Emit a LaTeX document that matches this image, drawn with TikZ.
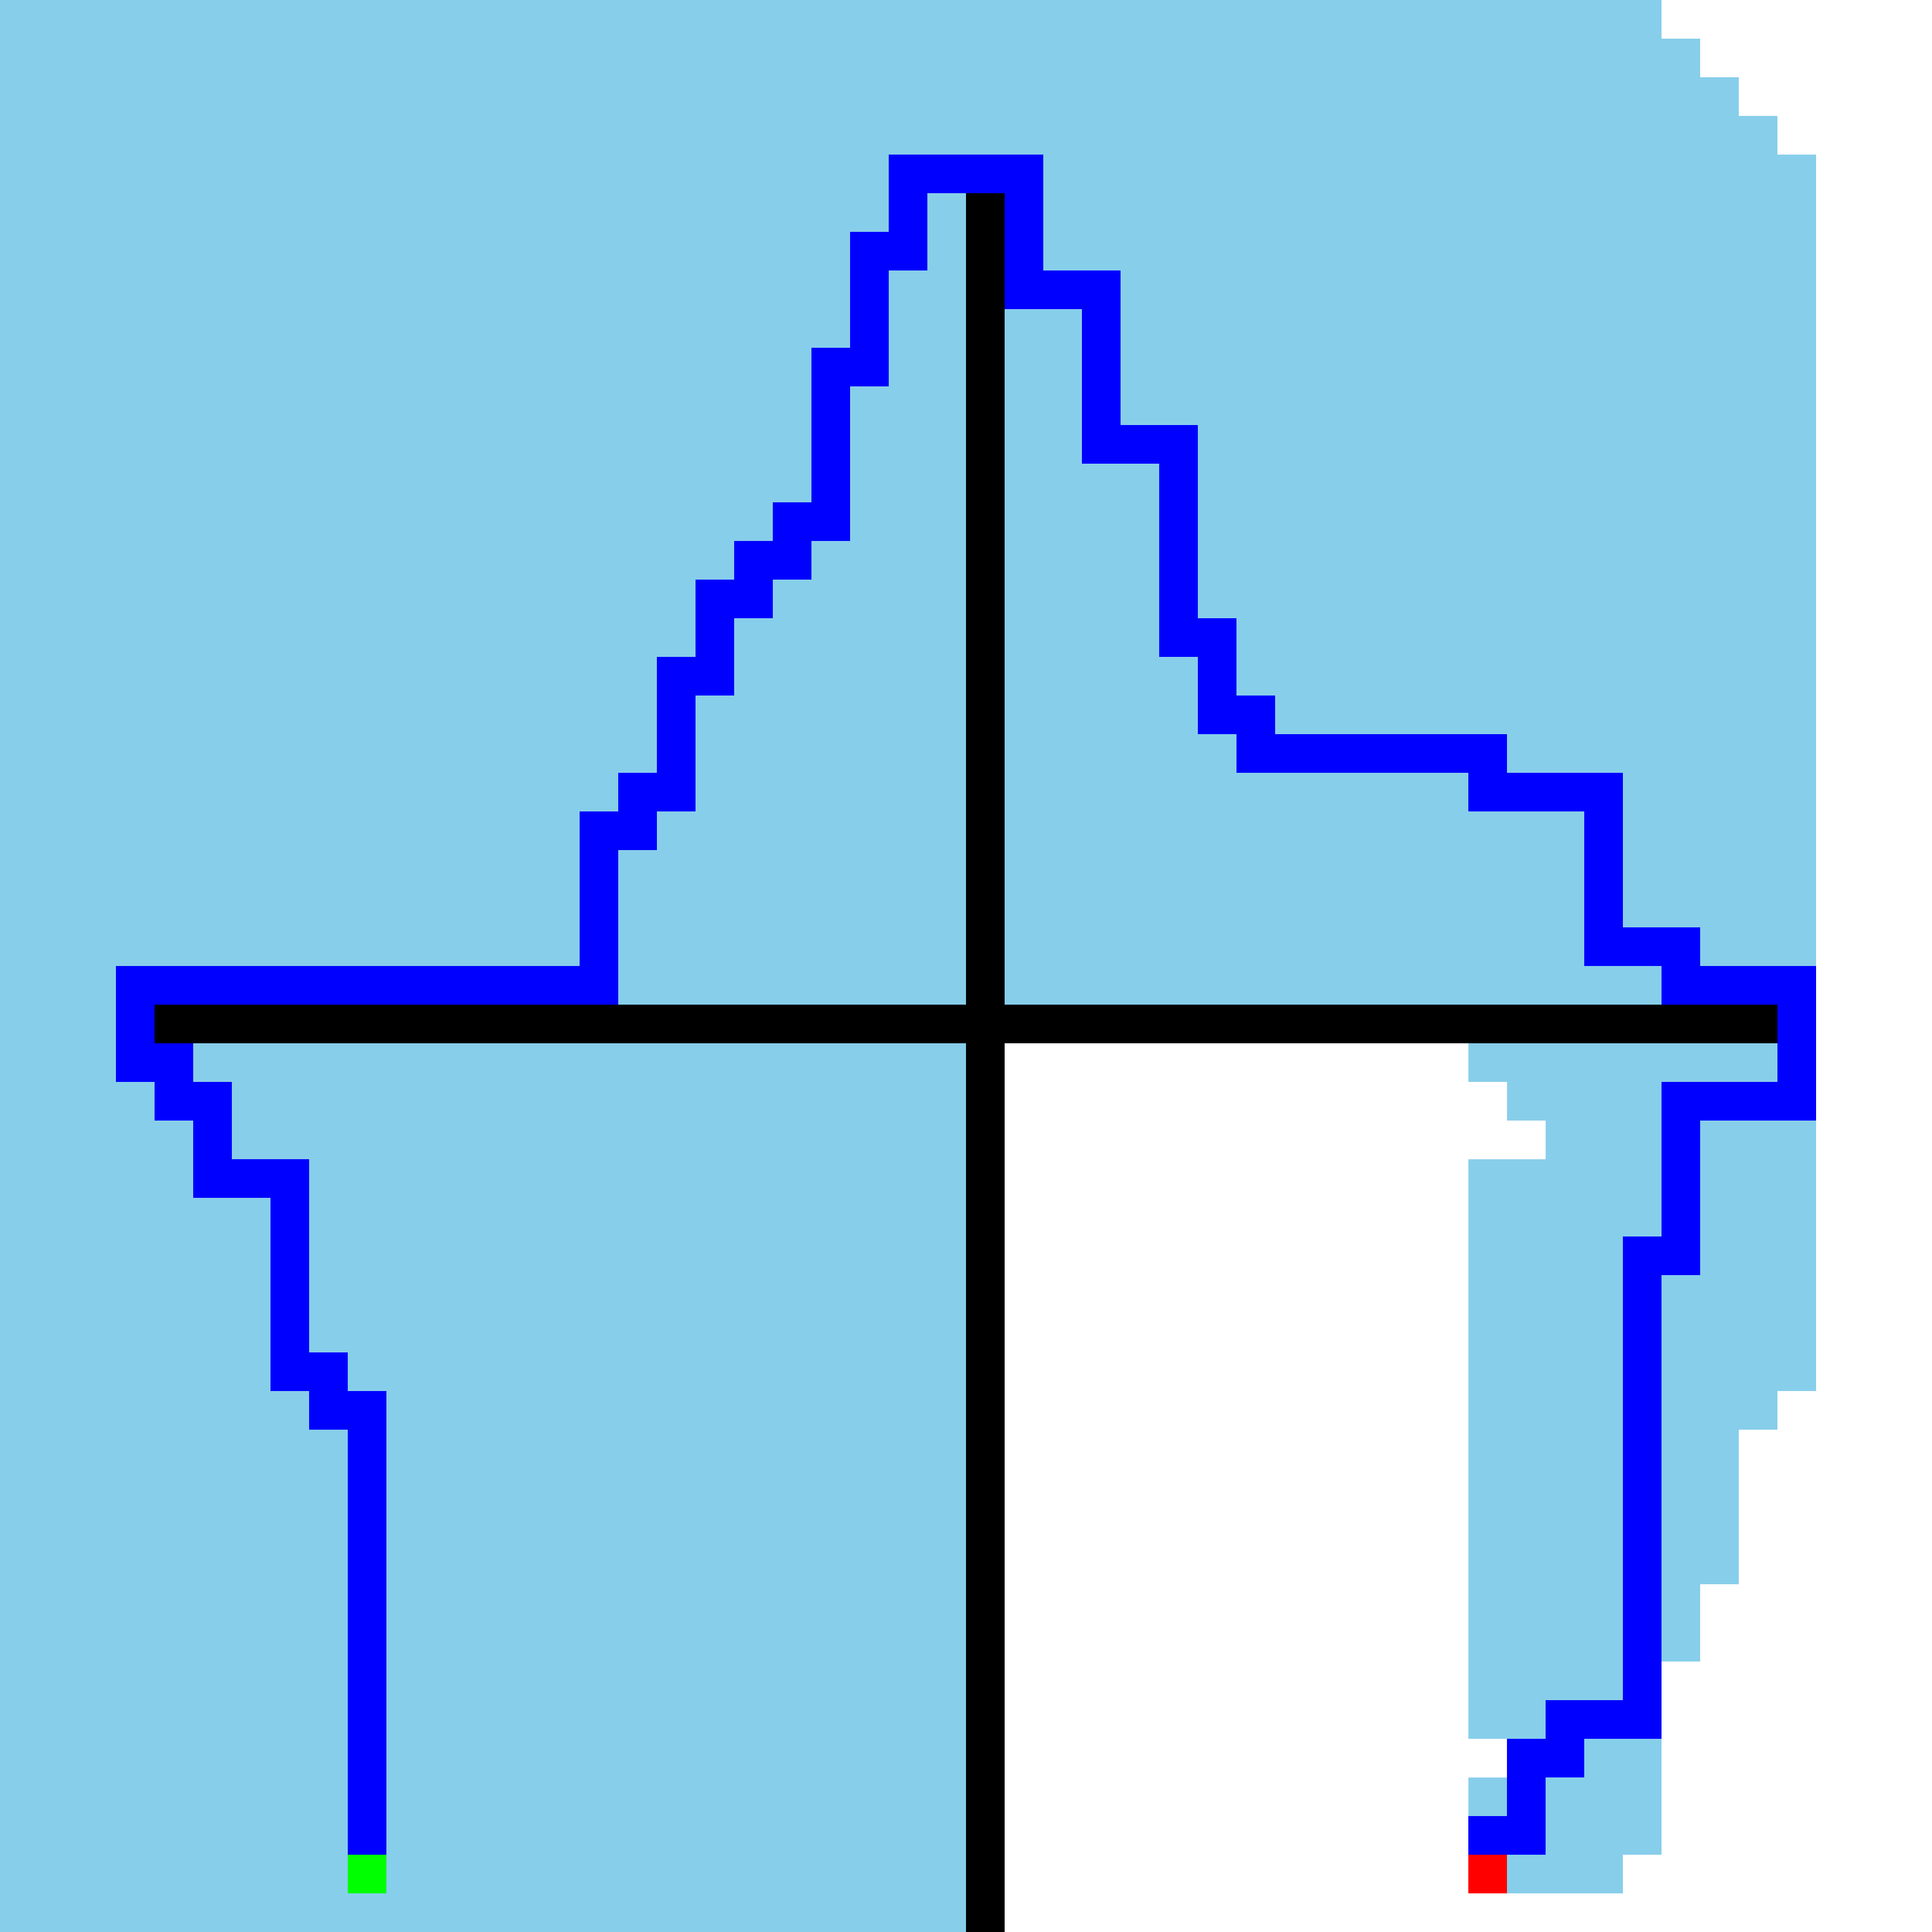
\documentclass[tikz,border=0pt]{standalone}
\definecolor{sky}{HTML}{87CEEB}
\definecolor{pblue}{HTML}{0000FF}
\definecolor{pgreen}{HTML}{00FF00}
\definecolor{pred}{HTML}{FF0000}
\begin{document}
\begin{tikzpicture}[x=1cm,y=-1cm,
  pathline/.style={draw=pblue, line width=1cm, line join=miter, line cap=butt},
  axisline/.style={draw=black, line width=1cm, line cap=butt},
  cellnode/.style={minimum size=1cm, inner sep=0pt, outer sep=0pt, draw=none}]
\useasboundingbox (0,0) rectangle (50,50);
\fill[sky] (0,0) rectangle (50,50);
\fill[white] (43,0) -- (50,0) -- (50,50) -- (26,50) -- (26,27) -- (38,27) -- (38,28) -- (39,28) -- (39,29) -- (40,29) -- (40,30) -- (38,30) -- (38,45) -- (39,45) -- (39,46) -- (38,46) -- (38,49) -- (42,49) -- (42,48) -- (43,48) -- (43,43) -- (44,43) -- (44,41) -- (45,41) -- (45,37) -- (46,37) -- (46,36) -- (47,36) -- (47,4) -- (46,4) -- (46,3) -- (45,3) -- (45,2) -- (44,2) -- (44,1) -- (43,1) -- cycle;
\coordinate (hl) at (4,26.5);
\coordinate (hr) at (46,26.5);
\coordinate (vt) at (25.5,5);
\coordinate (vb) at (25.5,50);
\draw[axisline] (hl) -- (hr);
\draw[axisline] (vt) -- (vb);
\node[cellnode, fill=pgreen] (s) at (9.5,48.5) {};
\node[cellnode, fill=pred] (e) at (38.5,48.5) {};
\draw[pathline] (s.north) -- (9.5,36.5) -- (8.5,36.5) -- (8.5,35.5) -- (7.5,35.5) -- (7.5,30.5) -- (5.5,30.5) -- (5.5,28.5) -- (4.5,28.5) -- (4.5,27.5) -- (3.5,27.5) -- (3.5,25.5) -- (15.5,25.5) -- (15.5,21.5) -- (16.5,21.5) -- (16.5,20.5) -- (17.5,20.5) -- (17.5,17.5) -- (18.5,17.5) -- (18.5,15.5) -- (19.5,15.5) -- (19.5,14.5) -- (20.5,14.5) -- (20.5,13.5) -- (21.5,13.5) -- (21.5,9.5) -- (22.5,9.5) -- (22.5,6.5) -- (23.5,6.5) -- (23.5,4.5) -- (26.5,4.5) -- (26.5,7.5) -- (28.5,7.5) -- (28.5,11.5) -- (30.5,11.5) -- (30.5,16.5) -- (31.5,16.5) -- (31.5,18.5) -- (32.5,18.5) -- (32.5,19.5) -- (38.5,19.5) -- (38.5,20.5) -- (41.5,20.5) -- (41.5,24.5) -- (43.5,24.5) -- (43.5,25.5) -- (46.5,25.5) -- (46.5,28.5) -- (43.5,28.5) -- (43.5,32.5) -- (42.5,32.5) -- (42.5,44.5) -- (40.5,44.5) -- (40.5,45.5) -- (39.5,45.5) -- (39.5,47.5) -- (38.5,47.5) -- (e.north);
\end{tikzpicture}
\end{document}
